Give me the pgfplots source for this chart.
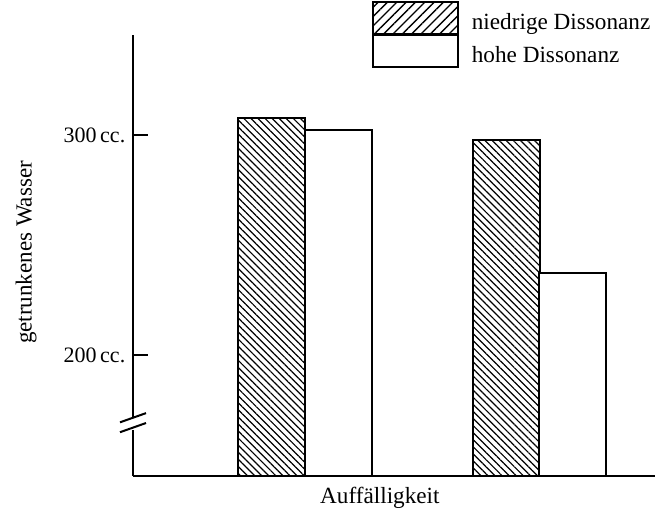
\documentclass[border=0pt]{standalone}
\usepackage{pgfplots}
\pgfplotsset{compat=1.18}
\usepackage{fontspec}
\setmainfont{Liberation Serif}
\usetikzlibrary{patterns.meta}
\begin{document}
\fontsize{11}{13}\selectfont
\begin{tikzpicture}
\begin{axis}[
  scale only axis,
  width=261pt, height=220.5pt,
  xmin=133, xmax=655,
  ymin=145, ymax=345.5,
  axis lines=left,
  axis line style={-, line width=1pt},
  xtick=\empty,
  ytick={200,300},
  yticklabels={200\,cc., 300\,cc.},
  tick align=inside,
  major tick length=7.5pt,
  tick style={line width=1pt, black},
  ybar, bar shift=0pt, bar width=67,
  clip=false,
  xlabel={Auffälligkeit},
  xlabel style={at={(axis description cs:0.473,0)}, anchor=north, yshift=-1.5pt, font=\fontsize{11.6}{14}\selectfont},
  ylabel={getrunkenes Wasser},
  ylabel style={at={(axis description cs:-0.17,0.507)}, anchor=south, font=\fontsize{11.5}{14}\selectfont},
  legend style={draw=none, fill=none, at={(axis description cs:0.458,1.0775)}, anchor=north west,
    row sep=-0.6pt, inner sep=0pt, nodes={inner sep=1.5pt}, font=\fontsize{11.6}{14}\selectfont},
  legend cell align=left,
]
\coordinate (bl) at (rel axis cs:0,0);
\addplot[forget plot, draw=black, line width=1pt, pattern={Lines[angle=-45,distance=2.5pt,line width=0.6pt]}]
  coordinates {(271,307.6) (506,297.7)};
\addplot[forget plot, draw=black, line width=1pt, fill=white]
  coordinates {(338,302.3) (572,237.1)};
\addlegendimage{legend image code/.code={\draw[line width=1pt, pattern={Lines[angle=45,distance=3.3pt,line width=0.7pt]}] (0pt,-5.5pt) rectangle (42.5pt,10.5pt); \path (47.5pt,0pt);}}
\addlegendentry{niedrige Dissonanz}
\addlegendimage{legend image code/.code={\draw[line width=1pt, fill=white] (0pt,-5.5pt) rectangle (42.5pt,10.5pt); \path (47.5pt,0pt);}}
\addlegendentry{hohe Dissonanz}
% axis break
\fill[white] ([xshift=-1pt]axis cs:133,166) rectangle ([xshift=1pt]axis cs:133,171.5);
\draw[line width=1pt] ([xshift=-6.5pt,yshift=-2.3pt]axis cs:133,171.5) -- ++(13pt,4.6pt);
\draw[line width=1pt] ([xshift=-6.5pt,yshift=-2.3pt]axis cs:133,167) -- ++(13pt,4.6pt);
\end{axis}
\pgfresetboundingbox
\path (bl) ++(-66.5pt,-17.5pt) rectangle ++(329pt,255.5pt);
\end{tikzpicture}
\end{document}
